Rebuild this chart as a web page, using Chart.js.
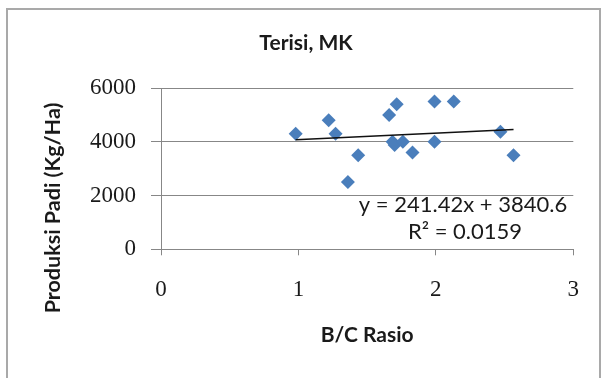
<!DOCTYPE html>
<html>
<head>
<meta charset="utf-8">
<script src="https://cdn.jsdelivr.net/npm/chart.js@4.4.1/dist/chart.umd.min.js"></script>
<style>
  html, body { margin: 0; padding: 0; background: #ffffff; }
  #wrap { position: relative; width: 603px; height: 378px; overflow: hidden; }
  #frame { position: absolute; left: 6px; top: 8px; width: 595px; height: 400px; border: 2px solid #a9a9a9; box-sizing: border-box; }
  canvas { position: absolute; left: 0; top: 0; }
</style>
</head>
<body>
<div id="wrap">
  <div id="frame"></div>
  <canvas id="c" width="603" height="378"></canvas>
</div>
<script>
// ---- data ----
const chartTitle = 'Terisi, MK';
const xTitle = 'B/C Rasio';
const yTitle = 'Produksi Padi (Kg/Ha)';
const bcRatio = [0.98, 1.22, 1.27, 1.435, 1.36, 1.66, 1.715, 1.685, 1.70, 1.76, 1.83, 1.99, 1.99, 2.13, 2.47, 2.565];
const produksi = [4300, 4800, 4300, 3500, 2500, 5000, 5400, 4000, 3880, 4000, 3600, 5500, 4000, 5500, 4370, 3500];
const xTicks = [0, 1, 2, 3];
const yTicks = [0, 2000, 4000, 6000];
const trendSlope = [241.42];
const trendIntercept = [3840.6];
const rSquared = ['0.0159'];

// ---- build datasets ----
const points = bcRatio.map((x, i) => ({ x: x, y: produksi[i] }));
const xMin = Math.min(...bcRatio), xMax = Math.max(...bcRatio);
const trend = [xMin, xMax].map(x => ({ x: x, y: trendSlope[0] * x + trendIntercept[0] }));
const eqText = 'y = ' + trendSlope[0] + 'x + ' + trendIntercept[0];
const r2Text = 'R\u00B2 = ' + rSquared[0];

const textColor = '#1a1a1a';
const gridColor = '#878787';
const sansBold = { family: 'Lato', weight: 'bold', size: 21 };
const serif = { family: 'Liberation Serif', size: 23 };

const extraText = {
  id: 'extraText',
  afterDraw(chart) {
    const ctx = chart.ctx;
    ctx.save();
    ctx.fillStyle = textColor;
    ctx.textAlign = 'center';
    ctx.textBaseline = 'middle';
    // y-axis title
    ctx.save();
    ctx.translate(53, 208);
    ctx.rotate(-Math.PI / 2);
    ctx.font = 'bold 21.5px Lato';
    ctx.fillText(yTitle, 0, 0);
    ctx.restore();
    // trendline equation
    ctx.font = '22px Lato';
    ctx.fillText(eqText, 463, 205);
    ctx.fillText(r2Text, 465, 232);
    ctx.restore();
  }
};

new Chart(document.getElementById('c'), {
  type: 'scatter',
  data: {
    datasets: [
      {
        label: 'Trend',
        data: trend,
        showLine: true,
        borderColor: '#111111',
        borderWidth: 1.5,
        pointRadius: 0,
        fill: false,
        order: 0
      },
      {
        label: 'Produksi',
        data: points,
        pointStyle: 'rectRot',
        pointRadius: 7,
        backgroundColor: '#4a7ebb',
        borderColor: '#4a7ebb',
        borderWidth: 0,
        order: 1
      }
    ]
  },
  options: {
    responsive: false,
    animation: false,
    devicePixelRatio: 1,
    layout: { padding: { left: 38.7, right: 29.7, top: 0, bottom: 0 } },
    plugins: {
      legend: { display: false },
      tooltip: { enabled: false },
      title: {
        display: true,
        text: chartTitle,
        color: textColor,
        font: sansBold,
        padding: { top: 30.4, bottom: 32.4 }
      }
    },
    scales: {
      x: {
        type: 'linear',
        min: xTicks[0],
        max: xTicks[xTicks.length - 1],
        afterBuildTicks: s => { s.ticks = xTicks.map(v => ({ value: v })); },
        ticks: { color: textColor, font: serif, padding: 21, callback: v => String(v) },
        grid: { drawOnChartArea: false, drawTicks: true, tickLength: 6, color: gridColor },
        border: { display: true, color: gridColor },
        title: { display: true, text: xTitle, color: textColor, font: sansBold, padding: { top: 0, bottom: 30.4 } },
        afterFit: s => { s.height = 128.7; }
      },
      y: {
        type: 'linear',
        min: yTicks[0],
        max: yTicks[yTicks.length - 1],
        afterBuildTicks: s => { s.ticks = yTicks.map(v => ({ value: v })); },
        ticks: { color: textColor, font: serif, padding: 15, callback: v => String(v) },
        grid: { color: gridColor, tickLength: 10 },
        border: { display: true, color: gridColor },
        afterFit: s => { s.width = 122.3; }
      }
    }
  },
  plugins: [extraText]
});
</script>
</body>
</html>
